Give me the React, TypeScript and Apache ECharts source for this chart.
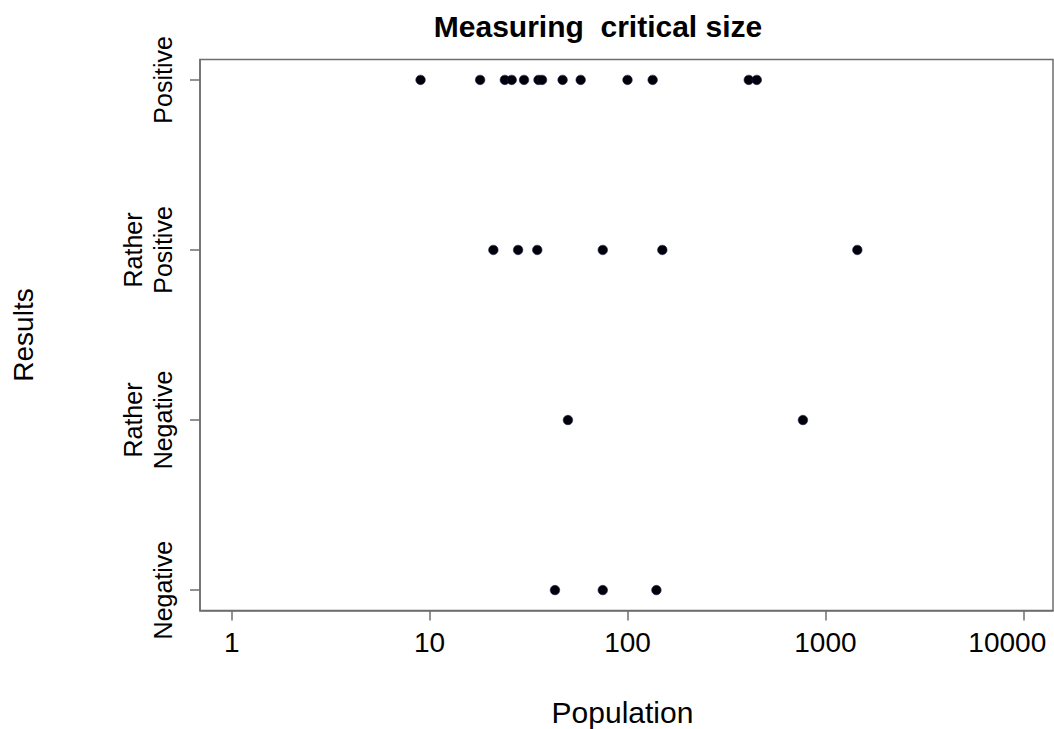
import React, { useEffect, useRef } from 'react';
import * as echarts from 'echarts';

const titleText = 'Measuring  critical size';
const xName = 'Population';
const yName = 'Results';
const categories = ['Negative', 'Rather\nNegative', 'Rather\nPositive', 'Positive'];
const negative = [43, 75, 140];
const ratherNegative = [50, 770];
const ratherPositive = [21, 28, 35, 75, 150, 1450];
const positive = [9, 18, 24, 26, 30, 35.5, 37, 47, 58, 100, 134, 410, 450];
const xTicks = [1, 10, 100, 1000, 10000];
const yTicks = [0, 1, 2, 3];

const FONT = '"Liberation Sans", Arial, Helvetica, sans-serif';
const FRAME = '#6e6e6e';

export default function App() {
  const ref = useRef<HTMLDivElement>(null);
  useEffect(() => {
    document.body.style.margin = '0';
    if (!ref.current) return;
    const chart = echarts.init(ref.current, null, { renderer: 'svg' });
    const groups = [negative, ratherNegative, ratherPositive, positive];
    const data: number[][] = [];
    groups.forEach((vals, i) => vals.forEach((v) => data.push([v, i])));
    const lastTick = xTicks[xTicks.length - 1];
    chart.setOption({
      animation: false,
      backgroundColor: '#ffffff',
      title: {
        text: titleText,
        left: 593,
        top: 6,
        textAlign: 'center',
        textStyle: { fontFamily: FONT, fontSize: 30, fontWeight: 'bold', color: '#000' },
      },
      grid: {
        left: 200,
        top: 59.5,
        right: 1,
        bottom: 118.5,
        show: true,
        borderColor: FRAME,
        borderWidth: 1.5,
        backgroundColor: 'transparent',
        containLabel: false,
        outerBoundsMode: 'none',
      },
      xAxis: {
        type: 'log',
        logBase: 10,
        min: 0.6915,
        max: 14130,
        name: xName,
        nameLocation: 'middle',
        nameGap: 87,
        nameTextStyle: { fontFamily: FONT, fontSize: 30, color: '#000', padding: [0, 8, 0, 0] },
        axisLine: { show: true, onZero: false, lineStyle: { color: FRAME, width: 1.5 } },
        axisTick: { show: true, length: 10, lineStyle: { color: FRAME, width: 1.5 }, customValues: xTicks },
        axisLabel: {
          margin: 18,
          fontFamily: FONT,
          fontSize: 28,
          color: '#000',
          customValues: xTicks,
          formatter: (v: number) => {
            const r = Math.round(v);
            return r === lastTick ? '{last|' + r + '}' : String(r);
          },
          rich: {
            last: { fontFamily: FONT, fontSize: 28, color: '#000', padding: [0, 32, 0, 0] },
          },
        },
        splitLine: { show: false },
        minorTick: { show: false },
      },
      yAxis: {
        type: 'value',
        min: -0.12,
        max: 3.12,
        name: yName,
        nameLocation: 'middle',
        nameRotate: 90,
        nameGap: 163,
        nameTextStyle: { fontFamily: FONT, fontSize: 28, color: '#000' },
        axisLine: { show: true, onZero: false, lineStyle: { color: FRAME, width: 1.5 } },
        axisTick: { show: true, length: 10, lineStyle: { color: FRAME, width: 1.5 }, customValues: yTicks },
        axisLabel: {
          rotate: 90,
          margin: 22,
          fontFamily: FONT,
          fontSize: 25,
          lineHeight: 30,
          color: '#000',
          customValues: yTicks,
          formatter: (v: number) => categories[Math.round(v)] ?? '',
        },
        splitLine: { show: false },
      },
      series: [
        {
          type: 'scatter',
          data,
          symbol: 'circle',
          symbolSize: 9.5,
          itemStyle: { color: '#000008', borderColor: '#1c1c50', borderWidth: 0.6, opacity: 1 },
        },
      ],
    });
    return () => chart.dispose();
  }, []);
  return <div ref={ref} style={{ width: 1054, height: 729 }} />;
}
